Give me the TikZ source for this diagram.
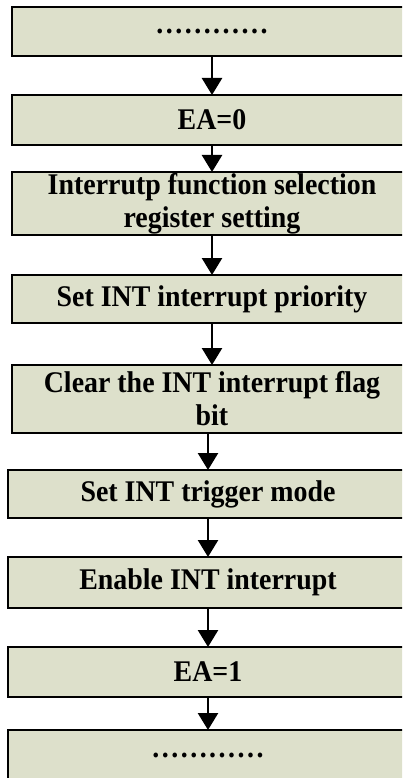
\documentclass[tikz,border=0pt]{standalone}
\usepackage{fontspec}
\setmainfont[FakeStretch=0.93]{Liberation Serif}
\usetikzlibrary{positioning,arrows.meta}
\definecolor{boxfill}{RGB}{221,224,203}
% row of dots, spaced out and centred on the box middle
\newcommand{\dotline}{\raisebox{-0.07em}[0pt][0pt]{.\kern2.5pt.\kern2.5pt.\kern2.5pt.\kern2.5pt.\kern2.5pt.\kern2.5pt.\kern2.5pt.\kern2.5pt.\kern2.5pt.\kern2.5pt.\kern2.5pt.}}

\begin{document}
\begin{tikzpicture}[x=1pt, y=1pt, node distance=39pt, every node/.style={rectangle, draw, line width=2.5pt, outer sep=0pt, fill=boxfill, align=center, minimum width=400pt, minimum height=50pt, inner ysep=0pt, font=\fontsize{30}{33}\selectfont\bfseries}]
    \useasboundingbox (0,0) rectangle (402,-778);
    \clip (0,0) rectangle (402,-778);

    \node [minimum height=49pt] (dots1) at (212,-31.5) {\dotline};
    \node [below=of dots1] (ea0) {EA=0};
    \node [below=27pt of ea0, minimum height=63pt] (sel) {Interrutp function selection\\register setting};
    \node [below=40pt of sel, minimum height=48pt] (prio) {Set INT interrupt priority};
    \node [below=42pt of prio, minimum height=68pt] (clr) {Clear the INT interrupt flag\\bit};
    \node [below=37pt of clr, xshift=-4pt, minimum height=48pt] (trig) {Set INT trigger mode};
    \node [below=of trig, minimum height=51pt] (en) {Enable INT interrupt};
    \node [below=of en] (ea1) {EA=1};
    \node [below=33pt of ea1] (dots2) {\dotline};

    \tikzset{arr/.style={draw, line width=2.5pt, -{Triangle[width=20pt,length=17pt]}}}
    \draw [arr] (dots1) -- (ea0);
    \draw [arr] (ea0) -- (sel);
    \draw [arr] (sel) -- (prio);
    \draw [arr] (prio) -- (clr);
    \draw [arr] (clr.south -| trig.north) -- (trig);
    \draw [arr] (trig) -- (en);
    \draw [arr] (en) -- (ea1);
    \draw [arr] (ea1) -- (dots2);
\end{tikzpicture}
\end{document}
